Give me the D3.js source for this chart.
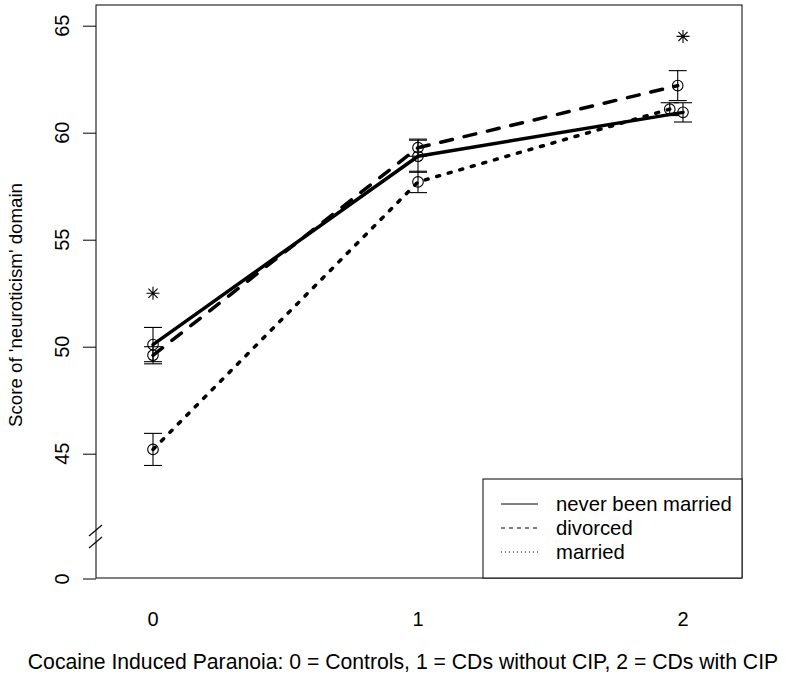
<!DOCTYPE html>
<html><head><meta charset="utf-8">
<script src="https://cdn.jsdelivr.net/npm/d3@7"></script>
<style>body{margin:0;background:#fff}svg{display:block}text{font-family:"Liberation Sans",Arial,sans-serif;fill:#000}</style>
</head><body>
<script>
const categories = [0, 1, 2];
const xTickLabels = ["0", "1", "2"];
const yTickValues = [45, 50, 55, 60, 65];
const yBreakLabel = "0";
const seriesNames = ["never been married", "divorced", "married"];
const neverX = [0, 1, 2];
const neverMean = [50.1, 58.9, 60.95];
const neverErr = [0.8, 0.75, 0.45];
const divorcedX = [0, 1, 1.98];
const divorcedMean = [49.6, 59.3, 62.2];
const divorcedErr = [0.4, 0.4, 0.7];
const marriedX = [0, 1, 1.95];
const marriedMean = [45.2, 57.7, 61.1];
const marriedErr = [0.75, 0.5, 0.3];
const starX = [0, 2];
const starY = [52.5, 64.5];
const xTitle = "Cocaine Induced Paranoia: 0 = Controls, 1 = CDs without CIP, 2 = CDs with CIP";
const yTitle = "Score of 'neuroticism' domain";

const W = 787, H = 683;
const box = {l: 96, r: 742, t: 5, b: 578};
const svg = d3.select("body").append("svg").attr("width", W).attr("height", H);
const x = d3.scaleLinear().domain([0, 2]).range([153, 683]);
const y = d3.scaleLinear().domain([45, 65]).range([453.7, 25.7]);
const breakPos = box.b + 1; // pixel position of the "0" label (axis floor)

const styles = [
  {dash: null, legDash: null},
  {dash: "12,12", legDash: "4,4"},
  {dash: "3,9", legDash: "1,3"}
];
const series = [
  {name: seriesNames[0], xs: neverX, m: neverMean, e: neverErr},
  {name: seriesNames[1], xs: divorcedX, m: divorcedMean, e: divorcedErr},
  {name: seriesNames[2], xs: marriedX, m: marriedMean, e: marriedErr}
];

// frame
svg.append("rect").attr("x", box.l).attr("y", box.t).attr("width", box.r - box.l).attr("height", box.b - box.t)
  .attr("fill", "none").attr("stroke", "#000").attr("stroke-width", 1);

// y axis ticks
const yAxis = d3.axisLeft(y).tickValues(yTickValues).tickSize(13).tickPadding(0).tickFormat(d3.format("d"));
const ga = svg.append("g").attr("transform", `translate(${box.l},0)`).call(yAxis);
ga.select(".domain").remove();
ga.selectAll("text").remove();
ga.selectAll(".tick line").attr("stroke", "#000");
yTickValues.forEach(v => {
  svg.append("text").attr("transform", `translate(69,${y(v)}) rotate(-90)`).attr("text-anchor", "middle")
    .attr("font-size", 20).text(d3.format("d")(v));
});
// break tick "0"
svg.append("line").attr("x1", box.l - 13).attr("x2", box.l).attr("y1", breakPos).attr("y2", breakPos).attr("stroke", "#000");
svg.append("text").attr("transform", `translate(69,${breakPos}) rotate(-90)`).attr("text-anchor", "middle")
  .attr("font-size", 20).text(yBreakLabel);
// break slashes
[531, 543].forEach(c => {
  svg.append("line").attr("x1", box.l - 7).attr("y1", c + 5).attr("x2", box.l + 6).attr("y2", c - 6)
    .attr("stroke", "#000").attr("stroke-width", 1.1);
});

// x labels
categories.forEach((c, i) => {
  svg.append("text").attr("x", x(c)).attr("y", 626).attr("text-anchor", "middle").attr("font-size", 20).text(xTickLabels[i]);
});
svg.append("text").attr("x", 403).attr("y", 669).attr("text-anchor", "middle").attr("font-size", 21.2).text(xTitle);
svg.append("text").attr("transform", `translate(22,305) rotate(-90)`).attr("text-anchor", "middle").attr("font-size", 18.7).text(yTitle);

// lines
const line = d3.line().x(d => x(d[0])).y(d => y(d[1]));
series.forEach((s, i) => {
  const pts = s.xs.map((xv, j) => [xv, s.m[j]]);
  svg.append("path").attr("d", line(pts)).attr("fill", "none").attr("stroke", "#000")
    .attr("stroke-width", 3.5).attr("stroke-linecap", "round").attr("stroke-linejoin", "round")
    .attr("stroke-dasharray", styles[i].dash);
});
// error bars and points
series.forEach(s => {
  s.xs.forEach((xv, j) => {
    const cx = x(xv), lo = y(s.m[j] - s.e[j]), hi = y(s.m[j] + s.e[j]);
    const g = svg.append("g").attr("stroke", "#000").attr("stroke-width", 1.1);
    g.append("line").attr("x1", cx).attr("x2", cx).attr("y1", lo).attr("y2", hi);
    g.append("line").attr("x1", cx - 9).attr("x2", cx + 9).attr("y1", lo).attr("y2", lo);
    g.append("line").attr("x1", cx - 9).attr("x2", cx + 9).attr("y1", hi).attr("y2", hi);
    svg.append("circle").attr("cx", cx).attr("cy", y(s.m[j])).attr("r", 5.3)
      .attr("fill", "none").attr("stroke", "#000").attr("stroke-width", 1.1);
  });
});
// asterisks
starX.forEach((sx, i) => {
  const cx = x(sx), cy = y(starY[i]), r = 6.5, d = r * 0.707;
  svg.append("path").attr("d", `M${cx - r},${cy}H${cx + r}M${cx},${cy - r}V${cy + r}M${cx - d},${cy - d}L${cx + d},${cy + d}M${cx - d},${cy + d}L${cx + d},${cy - d}`)
    .attr("stroke", "#000").attr("stroke-width", 1.1).attr("fill", "none");
});

// legend
const lg = {l: 483, t: 479, r: box.r, b: box.b};
svg.append("rect").attr("x", lg.l).attr("y", lg.t).attr("width", lg.r - lg.l).attr("height", lg.b - lg.t)
  .attr("fill", "#fff").attr("stroke", "#000").attr("stroke-width", 1);
seriesNames.forEach((n, i) => {
  const cy = 504 + i * 24;
  svg.append("line").attr("x1", 501).attr("x2", 538).attr("y1", cy).attr("y2", cy).attr("stroke", "#000")
    .attr("stroke-width", 1).attr("stroke-dasharray", styles[i].legDash);
  svg.append("text").attr("x", 556).attr("y", cy + 7).attr("font-size", 20.3).text(n);
});
</script>
</body></html>
